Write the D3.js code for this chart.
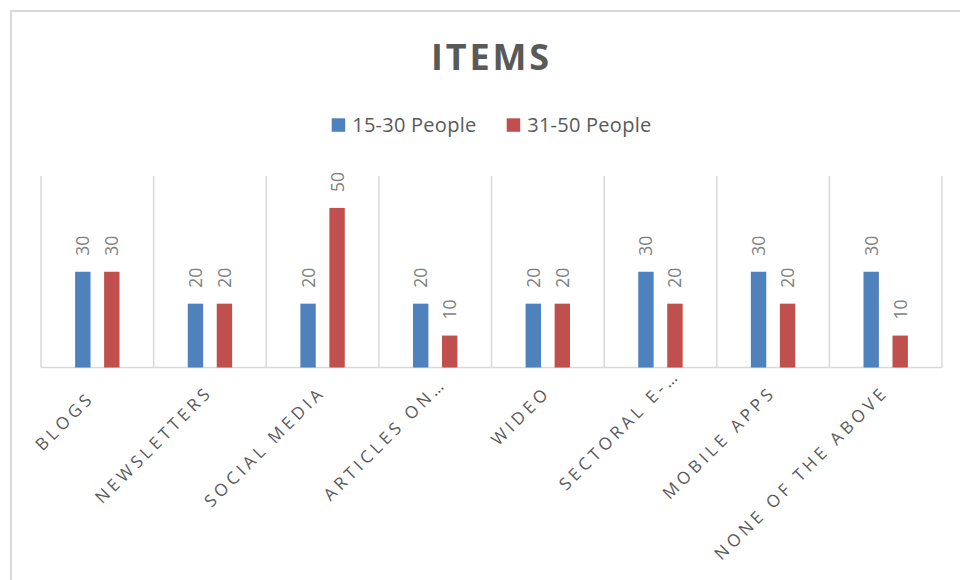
<!DOCTYPE html>
<html>
<head>
<meta charset="utf-8">
<script src="https://cdn.jsdelivr.net/npm/d3@7"></script>
<style>
  html, body { margin: 0; padding: 0; background: #ffffff; }
  svg { display: block; }
</style>
</head>
<body>
<script>
// Survey: preferred information channels by age group
const categories = ["BLOGS", "NEWSLETTERS", "SOCIAL MEDIA", "ARTICLES ON…", "WIDEO", "SECTORAL E-…", "MOBILE APPS", "NONE OF THE ABOVE"];
const seriesNames = ["15-30 People", "31-50 People"];
const people15to30 = [30, 20, 20, 20, 20, 30, 30, 30];
const people31to50 = [30, 20, 50, 10, 20, 20, 20, 10];
const seriesColors = ["#4f81bd", "#c0504d"];
const chartTitle = "ITEMS";

const W = 960, H = 580;
const margin = { left: 41, right: 18, top: 176, bottom: 212.5 };

// slide of some category labels along their own slanted direction
const labelSlide = { "BLOGS": -8, "ARTICLES ON…": 12, "SECTORAL E-…": 24 };

const svg = d3.select("body").append("svg")
  .attr("width", W).attr("height", H);

// outer chart frame
svg.append("rect")
  .attr("x", 11).attr("y", 11)
  .attr("width", W + 40).attr("height", H + 40)
  .attr("fill", "#ffffff")
  .attr("stroke", "#d9d9d9").attr("stroke-width", 2);

const rows = categories.map((c, i) => ({
  category: c,
  values: [people15to30[i], people31to50[i]]
}));

const x0 = d3.scaleBand()
  .domain(categories)
  .range([margin.left, W - margin.right])
  .paddingInner(0).paddingOuter(0);

const x1 = d3.scaleBand()
  .domain(d3.range(seriesNames.length))
  .range([-22.2, 22.2])
  .paddingInner(0.469).paddingOuter(0);

const y = d3.scaleLinear()
  .domain([0, 60])
  .range([H - margin.bottom, margin.top]);

// vertical separators between categories
const bounds = categories.map(c => x0(c)).concat([x0.range()[1]]);
svg.append("g").selectAll("line")
  .data(bounds)
  .join("line")
  .attr("x1", d => d).attr("x2", d => d)
  .attr("y1", y(60)).attr("y2", y(0))
  .attr("stroke", "#d9d9d9").attr("stroke-width", 1.5);

// category axis line
svg.append("line")
  .attr("x1", x0.range()[0]).attr("x2", x0.range()[1])
  .attr("y1", y(0)).attr("y2", y(0))
  .attr("stroke", "#d9d9d9").attr("stroke-width", 1.5);

// bars
const groups = svg.append("g").selectAll("g")
  .data(rows)
  .join("g")
  .attr("transform", d => `translate(${x0(d.category) + x0.bandwidth() / 2},0)`);

groups.selectAll("rect")
  .data(d => d.values.map((v, s) => ({ v, s })))
  .join("rect")
  .attr("x", d => x1(d.s))
  .attr("width", x1.bandwidth())
  .attr("y", d => y(d.v))
  .attr("height", d => y(0) - y(d.v))
  .attr("fill", d => seriesColors[d.s]);

// value labels, rotated
groups.selectAll("text")
  .data(d => d.values.map((v, s) => ({ v, s })))
  .join("text")
  .attr("transform", d => `translate(${x1(d.s) + x1.bandwidth() / 2 + 6.5},${y(d.v) - 16}) rotate(-90)`)
  .attr("text-anchor", "start")
  .attr("font-family", "'Open Sans', sans-serif")
  .attr("font-size", 17.5)
  .attr("fill", "#7f7f7f")
  .text(d => d.v);

// category labels, rotated 45 degrees
const diag = Math.SQRT1_2;
svg.append("g").selectAll("text")
  .data(categories)
  .join("text")
  .attr("transform", c => {
    const s = labelSlide[c] || 0;
    const ax = x0(c) + x0.bandwidth() / 2 + 3.8 + s * diag;
    const ay = y(0) + 25.7 - s * diag;
    return `translate(${ax},${ay}) rotate(-45)`;
  })
  .attr("text-anchor", "end")
  .attr("font-family", "'Open Sans', sans-serif")
  .attr("font-size", 17)
  .attr("letter-spacing", 4)
  .attr("fill", "#595959")
  .text(c => c);

// title
svg.append("text")
  .attr("x", 490).attr("y", 70)
  .attr("text-anchor", "middle")
  .attr("font-family", "'Open Sans', sans-serif")
  .attr("font-weight", "bold")
  .attr("font-size", 36)
  .attr("fill", "#595959")
  .attr("textLength", 118)
  .attr("lengthAdjust", "spacing")
  .text(chartTitle);

// legend
const legendX = [331.7, 506.7];
const legend = svg.append("g").selectAll("g")
  .data(seriesNames)
  .join("g")
  .attr("transform", (d, i) => `translate(${legendX[i]},118.3)`);
legend.append("rect")
  .attr("width", 13.5).attr("height", 13.5)
  .attr("fill", (d, i) => seriesColors[i]);
legend.append("text")
  .attr("x", 20.5).attr("y", 13.3)
  .attr("font-family", "'Open Sans', sans-serif")
  .attr("font-size", 20)
  .attr("fill", "#595959")
  .attr("textLength", 124)
  .attr("lengthAdjust", "spacing")
  .text(d => d);
</script>
</body>
</html>
